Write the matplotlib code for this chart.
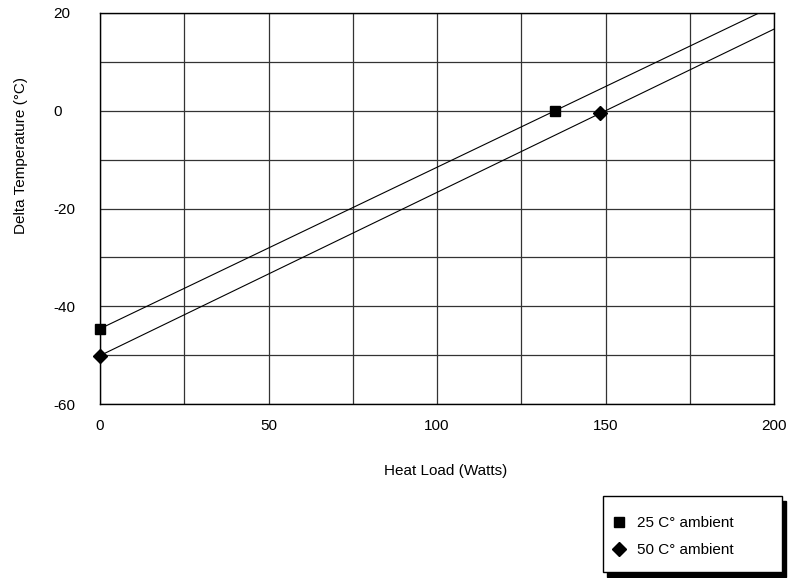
import numpy as np
import matplotlib.pyplot as plt
from matplotlib.patches import Rectangle

plt.rcParams['font.family'] = ['Liberation Sans', 'DejaVu Sans']

# measured points (heat load in W, delta T in C)
load_25 = [0, 135]
dt_25 = [-44.6, 0.0]
load_50 = [0, 148.5]
dt_50 = [-50.1, -0.5]
labels = ['25 C° ambient', '50 C° ambient']

x_ticks = [0, 50, 100, 150, 200]
y_ticks = [-60, -40, -20, 0, 20]


def trend(xs, ys):
    '''Straight line through the points, run out to the edge of the plot.'''
    k, b = np.polyfit(xs, ys, 1)
    xx = np.array([0, 200])
    return xx, k * xx + b


fig = plt.figure(figsize=(7.91, 5.78), dpi=100)
ax = fig.add_axes([100 / 791, 1 - 404 / 578, 674 / 791, 391 / 578])

for xs, ys, mk, ms, lab in [(load_25, dt_25, 's', 7.5, labels[0]),
                            (load_50, dt_50, 'D', 7, labels[1])]:
    lx, ly = trend(xs, ys)
    ax.plot(lx, ly, color='black', lw=0.8, zorder=3)
    ax.plot(xs, ys, linestyle='none', marker=mk, markersize=ms,
            color='black', zorder=4, clip_on=False, label=lab)

ax.set_xlim(0, 200)
ax.set_ylim(-60, 20)
ax.set_xticks(np.arange(0, 201, 25))
ax.set_yticks(np.arange(-60, 21, 10))
ax.set_xticklabels([str(v) if v in x_ticks else '' for v in range(0, 201, 25)])
ax.set_yticklabels([str(v) if v in y_ticks else '' for v in range(-60, 21, 10)],
                   ha='left')
ax.tick_params(axis='x', length=0, labelsize=11, pad=11)
ax.tick_params(axis='y', length=0, labelsize=11, pad=33.5)
ax.grid(True, color='#333333', lw=0.9)
for s in ax.spines.values():
    s.set_linewidth(1.0)

fig.text(446 / 791, 1 - 470.5 / 578, 'Heat Load (Watts)', ha='center',
         va='center', fontsize=11)
fig.text(21 / 791, 1 - 155 / 578, 'Delta Temperature (°C)', rotation=90,
         ha='center', va='center', fontsize=11)

# legend box with a hard black shadow
bx, by, bw, bh = 603 / 791, 1 - 572 / 578, 179 / 791, 76 / 578
fig.patches.append(Rectangle((bx + 4 / 791, by - 5 / 578), bw, bh,
                             transform=fig.transFigure, color='black'))
fig.patches.append(Rectangle((bx, by), bw, bh, transform=fig.transFigure,
                             facecolor='white', edgecolor='black', lw=1))
fig.legend(loc='upper left', bbox_to_anchor=(606 / 791, 1 - 510 / 578),
           frameon=False, fontsize=11, handlelength=0.9, handletextpad=0.7,
           labelspacing=0.86, borderaxespad=0)

fig.savefig('out.png', dpi=100)
